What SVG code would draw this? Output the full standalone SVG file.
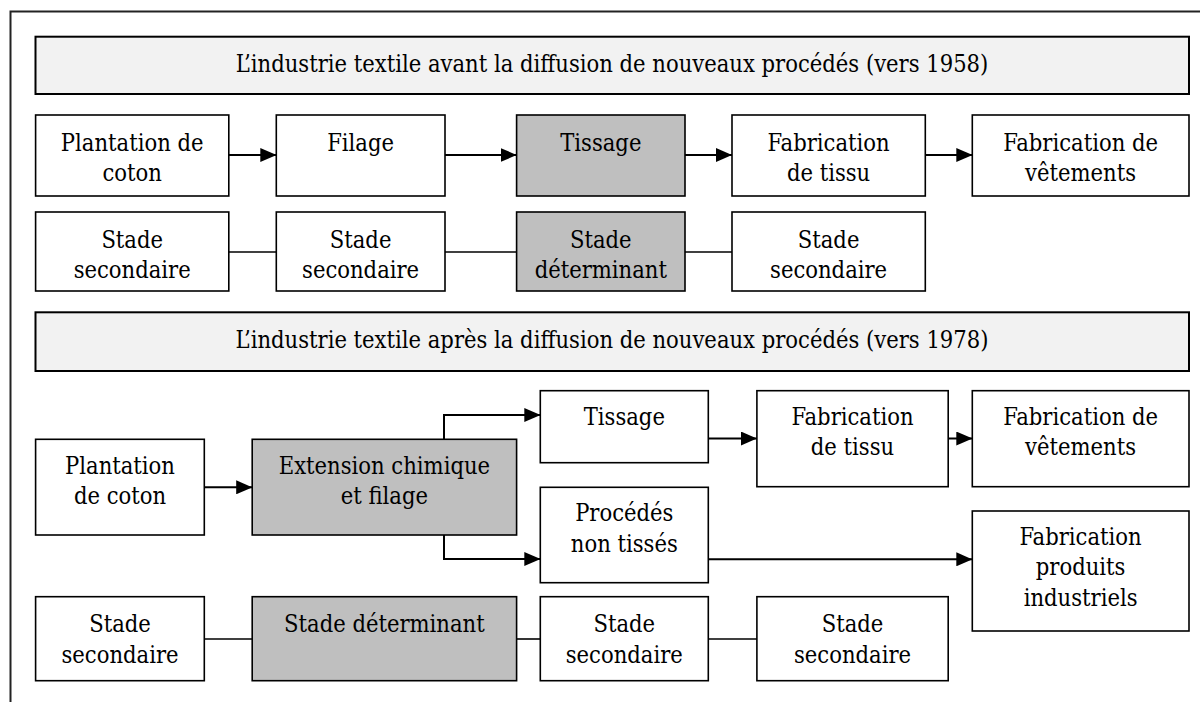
<svg xmlns="http://www.w3.org/2000/svg" width="1200" height="702" viewBox="0 0 1200 702">
  <style>
    .box { fill: #ffffff; stroke: #000000; stroke-width: 1.6; }
    .key { fill: #bfbfbf; stroke: #000000; stroke-width: 1.6; }
    .head { fill: #f2f2f2; stroke: #000000; stroke-width: 2; }
    text { font-family: "DejaVu Serif Condensed", "DejaVu Serif", serif; font-stretch: condensed; font-size: 23.5px; fill: #000000; text-anchor: middle; }
    .flow { fill: none; stroke: #000000; stroke-width: 2; }
    .link { fill: none; stroke: #000000; stroke-width: 1.6; }
  </style>
  <defs>
    <marker id="arrow" viewBox="0 0 16 14" refX="16" refY="7" markerWidth="16" markerHeight="14" markerUnits="userSpaceOnUse" orient="auto">
      <path d="M0,0 L16,7 L0,14 Z" fill="#000000"/>
    </marker>
  </defs>

  <rect width="1200" height="702" fill="#ffffff"/>
  <!-- outer frame -->
  <path d="M10.5,702 V11.5 H1200" fill="none" stroke="#222222" stroke-width="2"/>

  <!-- ===== 1958 ===== -->
  <g id="header-1958">
    <rect class="head" x="35.5" y="36.7" width="1153.5" height="57.3"/>
    <text x="612" y="72">L’industrie textile avant la diffusion de nouveaux procédés (vers 1958)</text>
  </g>

  <g id="a-plantation">
    <rect class="box" x="35.6" y="115" width="193.2" height="81"/>
    <text x="132.2" y="150.5">Plantation de</text>
    <text x="132.2" y="180.5">coton</text>
  </g>
  <g id="a-filage">
    <rect class="box" x="276.3" y="115" width="168.7" height="81"/>
    <text x="360.6" y="150.5">Filage</text>
  </g>
  <g id="a-tissage">
    <rect class="key" x="516.6" y="115" width="168.4" height="81"/>
    <text x="600.8" y="150.5">Tissage</text>
  </g>
  <g id="a-tissu">
    <rect class="box" x="732" y="115" width="193.3" height="81"/>
    <text x="828.6" y="150.5">Fabrication</text>
    <text x="828.6" y="180.5">de tissu</text>
  </g>
  <g id="a-vetements">
    <rect class="box" x="972.3" y="115" width="216.7" height="81"/>
    <text x="1080.6" y="150.5">Fabrication de</text>
    <text x="1080.6" y="180.5">vêtements</text>
  </g>

  <g id="a-stade-1">
    <rect class="box" x="35.6" y="212" width="193.2" height="79"/>
    <text x="132.2" y="247.5">Stade</text>
    <text x="132.2" y="277.5">secondaire</text>
  </g>
  <g id="a-stade-2">
    <rect class="box" x="276.3" y="212" width="168.7" height="79"/>
    <text x="360.6" y="247.5">Stade</text>
    <text x="360.6" y="277.5">secondaire</text>
  </g>
  <g id="a-stade-3">
    <rect class="key" x="516.6" y="212" width="168.4" height="79"/>
    <text x="600.8" y="247.5">Stade</text>
    <text x="600.8" y="277.5">déterminant</text>
  </g>
  <g id="a-stade-4">
    <rect class="box" x="732" y="212" width="193.3" height="79"/>
    <text x="828.6" y="247.5">Stade</text>
    <text x="828.6" y="277.5">secondaire</text>
  </g>

  <!-- ===== 1978 ===== -->
  <g id="header-1978">
    <rect class="head" x="35.5" y="312.3" width="1153.5" height="58.7"/>
    <text x="612" y="348">L’industrie textile après la diffusion de nouveaux procédés (vers 1978)</text>
  </g>

  <g id="b-plantation">
    <rect class="box" x="35.6" y="439.3" width="168.7" height="95.7"/>
    <text x="120" y="474">Plantation</text>
    <text x="120" y="504">de coton</text>
  </g>
  <g id="b-extension">
    <rect class="key" x="252.2" y="439.3" width="264.4" height="95.7"/>
    <text x="384.4" y="474">Extension chimique</text>
    <text x="384.4" y="504">et filage</text>
  </g>
  <g id="b-tissage">
    <rect class="box" x="540.3" y="390.7" width="168" height="72"/>
    <text x="624.3" y="425">Tissage</text>
  </g>
  <g id="b-tissu">
    <rect class="box" x="756.9" y="390.7" width="191.3" height="96"/>
    <text x="852.5" y="425">Fabrication</text>
    <text x="852.5" y="455">de tissu</text>
  </g>
  <g id="b-vetements">
    <rect class="box" x="972.3" y="390.7" width="216.7" height="96"/>
    <text x="1080.6" y="425">Fabrication de</text>
    <text x="1080.6" y="455">vêtements</text>
  </g>
  <g id="b-nontisses">
    <rect class="box" x="540.3" y="487.3" width="168" height="95.4"/>
    <text x="624.3" y="521">Procédés</text>
    <text x="624.3" y="551.5">non tissés</text>
  </g>
  <g id="b-industriels">
    <rect class="box" x="972.3" y="511" width="216.7" height="120"/>
    <text x="1080.6" y="545">Fabrication</text>
    <text x="1080.6" y="575">produits</text>
    <text x="1080.6" y="606">industriels</text>
  </g>

  <g id="b-stade-1">
    <rect class="box" x="35.6" y="596.7" width="168.7" height="84"/>
    <text x="120" y="632">Stade</text>
    <text x="120" y="663">secondaire</text>
  </g>
  <g id="b-stade-2">
    <rect class="key" x="252.2" y="596.7" width="264.4" height="84"/>
    <text x="384.4" y="632">Stade déterminant</text>
  </g>
  <g id="b-stade-3">
    <rect class="box" x="540.3" y="596.7" width="168" height="84"/>
    <text x="624.3" y="632">Stade</text>
    <text x="624.3" y="663">secondaire</text>
  </g>
  <g id="b-stade-4">
    <rect class="box" x="756.9" y="596.7" width="191.3" height="84"/>
    <text x="852.5" y="632">Stade</text>
    <text x="852.5" y="663">secondaire</text>
  </g>

  <!-- connectors -->
  <g id="connectors">
    <!-- 1958 chain -->
    <path class="flow" d="M228.8,155 H276.3" marker-end="url(#arrow)"/>
    <path class="flow" d="M445,155 H516.6" marker-end="url(#arrow)"/>
    <path class="flow" d="M685,155 H732" marker-end="url(#arrow)"/>
    <path class="flow" d="M925.3,155 H972.3" marker-end="url(#arrow)"/>
    <path class="link" d="M228.8,252 H276.3"/>
    <path class="link" d="M445,252 H516.6"/>
    <path class="link" d="M685,252 H732"/>

    <!-- 1978 chain -->
    <path class="flow" d="M204.3,487.3 H252.2" marker-end="url(#arrow)"/>
    <path class="flow" d="M444,439.3 V415 H540.3" marker-end="url(#arrow)"/>
    <path class="flow" d="M444,535 V559 H540.3" marker-end="url(#arrow)"/>
    <path class="flow" d="M708.3,438.5 H756.9" marker-end="url(#arrow)"/>
    <path class="flow" d="M948.2,438.5 H972.3" marker-end="url(#arrow)"/>
    <path class="flow" d="M708.3,559.3 H972.3" marker-end="url(#arrow)"/>
    <path class="link" d="M204.3,639 H252.2"/>
    <path class="link" d="M516.6,639 H540.3"/>
    <path class="link" d="M708.3,639 H756.9"/>
  </g>
</svg>
